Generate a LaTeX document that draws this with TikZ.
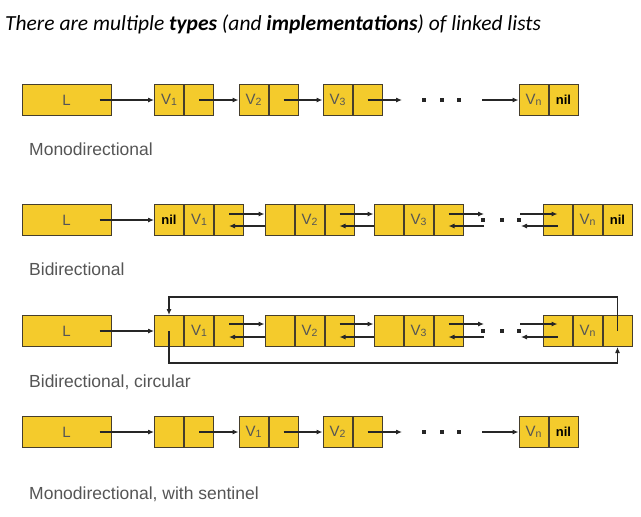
\documentclass[tikz,border=0pt]{standalone}
\usepackage{fontspec}
\setmainfont{Liberation Sans}
\newfontfamily\titlefont{Carlito}
\usetikzlibrary{arrows.meta,positioning}
\definecolor{cellfill}{HTML}{F4CB2C}
\definecolor{celldraw}{HTML}{463E2C}
\definecolor{labgray}{HTML}{555555}
\newcommand{\vsub}[1]{V\raisebox{-1.5pt}{\fontsize{10.5}{10.5}\selectfont #1}}
\tikzset{
  cell/.style={draw=celldraw,fill=cellfill,line width=1pt,minimum width=29pt,
    minimum height=31pt,inner sep=0pt,font=\fontsize{15}{15}\selectfont,text=labgray},
  headbox/.style={cell,minimum width=89pt},
  niltext/.style={font=\fontsize{13}{13}\selectfont\bfseries,text=black},
  link/.style={line width=1.1pt,draw=black!85,-{Latex[length=6pt,width=5pt]}},
  rowlabel/.style={anchor=base west,inner sep=0pt,text=labgray,font=\fontsize{17.5}{17.5}\selectfont},
  dot/.style={fill=black!85,minimum size=4pt,inner sep=0pt}
}
\begin{document}
\begin{tikzpicture}[x=1pt,y=-1pt]
  \useasboundingbox (0,0) rectangle (641,517);
  % title
  \node[anchor=base west,inner sep=0pt,font=\titlefont\fontsize{21.5}{21.5}\selectfont\itshape]
    (title) at (5,30) {There are multiple \textbf{types} (and \textbf{implementations}) of linked lists};

  % monodirectional
  \begin{scope}
    \node[headbox] (aL) at (66.5,100) {L};
    \node[cell] (a1v) at (169,100) {\vsub{1}};
    \node[cell,right=0pt of a1v] (a1p) {};
    \node[cell] (a2v) at (253.5,100) {\vsub{2}};
    \node[cell,right=0pt of a2v] (a2p) {};
    \node[cell] (a3v) at (337.5,100) {\vsub{3}};
    \node[cell,right=0pt of a3v] (a3p) {};
    \node[cell] (anv) at (533.5,100) {\vsub{n}};
    \node[cell,niltext,right=0pt of anv] (anp) {nil};
    \foreach \x [count=\i] in {424,442,459}
      \node[dot] (ad\i) at (\x,100) {};
    \coordinate (aout) at (402,100);
    \coordinate (ain) at (482,100);
    \draw[link] ([xshift=-12pt]aL.east) -- (a1v.west);
    \draw[link] (a1p.center) -- (a2v.west);
    \draw[link] (a2p.center) -- (a3v.west);
    \draw[link] (a3p.center) -- (aout);
    \draw[link] (ain) -- (anv.west);
    \node[rowlabel] (alab) at (29,155) {Monodirectional};
  \end{scope}

  % bidirectional
  \begin{scope}
    \node[headbox] (bL) at (66.5,220) {L};
    \node[cell,niltext] (b1a) at (169,220) {nil};
    \node[cell,right=0pt of b1a] (b1v) {\vsub{1}};
    \node[cell,right=0pt of b1v] (b1p) {};
    \node[cell] (b2a) at (279.5,220) {};
    \node[cell,right=0pt of b2a] (b2v) {\vsub{2}};
    \node[cell,right=0pt of b2v] (b2p) {};
    \node[cell] (b3a) at (388.5,220) {};
    \node[cell,right=0pt of b3a] (b3v) {\vsub{3}};
    \node[cell,right=0pt of b3v] (b3p) {};
    \node[cell] (bna) at (557.5,220) {};
    \node[cell,right=0pt of bna] (bnv) {\vsub{n}};
    \node[cell,niltext,right=0pt of bnv] (bnp) {nil};
    \foreach \x [count=\i] in {483,502,519}
      \node[dot] (bd\i) at (\x,220) {};
    \coordinate (boutf) at (484,214);
    \coordinate (boutb) at (484,226);
    \coordinate (binf) at (520,214);
    \coordinate (binb) at (521,226);
    \draw[link] ([xshift=-12pt]bL.east) -- (b1a.west);
    \draw[link] (b1p.center |- 0,214) -- (b2a.west |- 0,214);
    \draw[link] (b2a.west |- 0,226) -- (b1p.center |- 0,226);
    \draw[link] (b2p.center |- 0,214) -- (b3a.west |- 0,214);
    \draw[link] (b3a.west |- 0,226) -- (b2p.center |- 0,226);
    \draw[link] (b3p.center |- 0,214) -- (boutf);
    \draw[link] (boutb) -- (b3p.center |- 0,226);
    \draw[link] (binf) -- (bna.center |- 0,214);
    \draw[link] (bna.center |- 0,226) -- (binb);
    \node[rowlabel] (blab) at (29,275) {Bidirectional};
  \end{scope}

  % bidirectional, circular
  \begin{scope}
    \node[headbox] (cL) at (66.5,331) {L};
    \node[cell] (c1a) at (169,331) {};
    \node[cell,right=0pt of c1a] (c1v) {\vsub{1}};
    \node[cell,right=0pt of c1v] (c1p) {};
    \node[cell] (c2a) at (279.5,331) {};
    \node[cell,right=0pt of c2a] (c2v) {\vsub{2}};
    \node[cell,right=0pt of c2v] (c2p) {};
    \node[cell] (c3a) at (388.5,331) {};
    \node[cell,right=0pt of c3a] (c3v) {\vsub{3}};
    \node[cell,right=0pt of c3v] (c3p) {};
    \node[cell] (cna) at (557.5,331) {};
    \node[cell,right=0pt of cna] (cnv) {\vsub{n}};
    \node[cell,right=0pt of cnv] (cnp) {};
    \foreach \x [count=\i] in {483,502,519}
      \node[dot] (cd\i) at (\x,331) {};
    \coordinate (coutf) at (484,324);
    \coordinate (coutb) at (484,337);
    \coordinate (cinf) at (520,324);
    \coordinate (cinb) at (521,337);
    \coordinate (ctop) at (0,297);
    \coordinate (cbot) at (0,363);
    \draw[link] ([xshift=-12pt]cL.east) -- (c1a.west);
    \draw[link] (c1p.center |- 0,324) -- (c2a.west |- 0,324);
    \draw[link] (c2a.west |- 0,337) -- (c1p.center |- 0,337);
    \draw[link] (c2p.center |- 0,324) -- (c3a.west |- 0,324);
    \draw[link] (c3a.west |- 0,337) -- (c2p.center |- 0,337);
    \draw[link] (c3p.center |- 0,324) -- (coutf);
    \draw[link] (coutb) -- (c3p.center |- 0,337);
    \draw[link] (cinf) -- (cna.center |- 0,324);
    \draw[link] (cna.center |- 0,337) -- (cinb);
    % wrap-around links
    \draw[link] (cnp.center) -- (cnp.center |- ctop) -| (c1a.north);
    \draw[link] (c1a.center) -- (c1a.center |- cbot) -| (cnp.south);
    \node[rowlabel] (clab) at (29,387) {Bidirectional, circular};
  \end{scope}

  % monodirectional, with sentinel
  \begin{scope}
    \node[headbox] (dL) at (66.5,432) {L};
    \node[cell] (dsa) at (169,432) {};
    \node[cell,right=0pt of dsa] (dsp) {};
    \node[cell] (d1v) at (253.5,432) {\vsub{1}};
    \node[cell,right=0pt of d1v] (d1p) {};
    \node[cell] (d2v) at (337.5,432) {\vsub{2}};
    \node[cell,right=0pt of d2v] (d2p) {};
    \node[cell] (dnv) at (533.5,432) {\vsub{n}};
    \node[cell,niltext,right=0pt of dnv] (dnp) {nil};
    \foreach \x [count=\i] in {424,442,459}
      \node[dot] (dd\i) at (\x,432) {};
    \coordinate (dout) at (402,432);
    \coordinate (din) at (482,432);
    \draw[link] ([xshift=-12pt]dL.east) -- (dsa.west);
    \draw[link] (dsp.center) -- (d1v.west);
    \draw[link] (d1p.center) -- (d2v.west);
    \draw[link] (d2p.center) -- (dout);
    \draw[link] (din) -- (dnv.west);
    \node[rowlabel] (dlab) at (29,499) {Monodirectional, with sentinel};
  \end{scope}
\end{tikzpicture}
\end{document}
